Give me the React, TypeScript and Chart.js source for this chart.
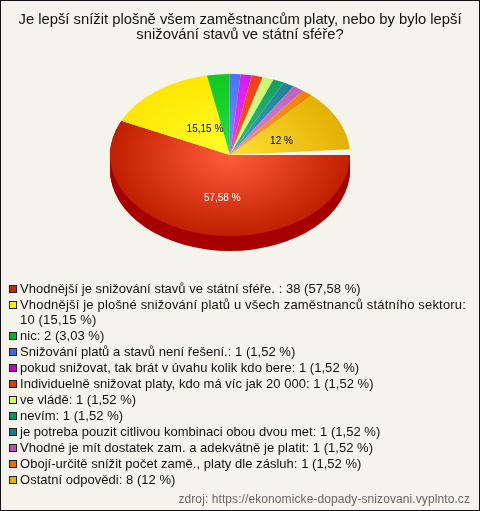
import React, { useEffect, useRef } from "react";
import { Chart, registerables } from "chart.js";

Chart.register(...registerables);

const titleLines = [
  "Je lepší snížit plošně všem zaměstnancům platy, nebo by bylo lepší",
  "snižování stavů ve státní sféře?",
];
const categories = [
  "Vhodnější je snižování stavů ve státní sféře. ",
  "Vhodnější je plošné snižování platů u všech zaměstnanců státního sektoru",
  "nic",
  "Snižování platů a stavů není řešení.",
  "pokud snižovat, tak brát v úvahu kolik kdo bere",
  "Individuelně snižovat platy, kdo má víc jak 20 000",
  "ve vládě",
  "nevím",
  "je potreba pouzit citlivou kombinaci obou dvou met",
  "Vhodné je mít dostatek zam. a adekvátně je platit",
  "Obojí-určitě snížit počet zamě., platy dle zásluh",
  "Ostatní odpovědi",
];
const values = [38, 10, 2, 1, 1, 1, 1, 1, 1, 1, 1, 8];
const percents = ["57,58", "15,15", "3,03", "1,52", "1,52", "1,52", "1,52", "1,52", "1,52", "1,52", "1,52", "12"];
const swatchColors = ["#c02a0c", "#ffee00", "#00b81c", "#3a6cf0", "#c400c4", "#e03c00", "#ccff66", "#009a5c", "#1a7a9a", "#b84fb8", "#e87000", "#e8b400"];
const innerColors = ["#ff5c3c", "#ffff2a", "#28e040", "#6e94ff", "#f040ff", "#ff5a20", "#e0ff90", "#30c088", "#40a8b8", "#e088e0", "#ffa030", "#ffe23c"];
const outerColors = ["#c02000", "#ffe600", "#10c820", "#5070ff", "#d818f0", "#f04010", "#c8f870", "#10a060", "#208098", "#c060c0", "#f08000", "#e2b000"];
const sideColor = "#a80000";
const sliceLabels = ["57,58 %", "15,15 %", "", "", "", "", "", "", "", "", "", "12 %"];
const labelColors = ["#ffffff", "#000000", "", "", "", "", "", "", "", "", "", "#000000"];
const labelReach = [0.53, 0.42, 0, 0, 0, 0, 0, 0, 0, 0, 0, 0.42];
const sourceText = "zdroj: https://ekonomicke-dopady-snizovani.vyplnto.cz";

const FONT = '"Liberation Sans", Arial, sans-serif';
const SQUASH = 0.675;
const CENTER_X = 230;
const CENTER_Y = 155;
const DEPTH = 15;
const LABEL_NUDGE_X = 6;
const LABEL_NUDGE_Y = 1;

const pie3d = {
  id: "pie3d",
  beforeDatasetsDraw(chart: any) {
    const ctx = chart.ctx;
    const arcs = chart.getDatasetMeta(0).data;
    const { x, y } = arcs[0];
    ctx.save();
    ctx.translate(CENTER_X, CENTER_Y);
    ctx.scale(1, SQUASH);
    ctx.translate(-x, -y);
    arcs.forEach((arc: any) => {
      const mid = (arc.startAngle + arc.endAngle) / 2;
      if (Math.sin(mid) <= 0) return;
      ctx.fillStyle = sideColor;
      for (let d = DEPTH; d >= 1; d--) {
        ctx.beginPath();
        ctx.moveTo(x, y + d / SQUASH);
        ctx.arc(x, y + d / SQUASH, arc.outerRadius, arc.startAngle, arc.endAngle);
        ctx.closePath();
        ctx.fill();
      }
    });
  },
  afterDatasetsDraw(chart: any) {
    const ctx = chart.ctx;
    ctx.restore();
    const arcs = chart.getDatasetMeta(0).data;
    ctx.save();
    ctx.font = `10px ${FONT}`;
    ctx.textAlign = "center";
    ctx.textBaseline = "middle";
    arcs.forEach((arc: any, i: number) => {
      if (!sliceLabels[i]) return;
      const mid = (arc.startAngle + arc.endAngle) / 2;
      const r = arc.outerRadius * labelReach[i];
      ctx.fillStyle = labelColors[i];
      ctx.fillText(sliceLabels[i], CENTER_X + LABEL_NUDGE_X + Math.cos(mid) * r, CENTER_Y + LABEL_NUDGE_Y + Math.sin(mid) * r * SQUASH);
    });
    ctx.restore();
  },
};

function fillFor(context: any) {
  const chart = context.chart;
  const area = chart.chartArea;
  const i = context.dataIndex;
  if (!area) return outerColors[i];
  const cx = (area.left + area.right) / 2;
  const cy = (area.top + area.bottom) / 2;
  const g = chart.ctx.createRadialGradient(cx, cy, 0, cx, cy, 120);
  g.addColorStop(0, innerColors[i]);
  g.addColorStop(1, outerColors[i]);
  return g;
}

export default function App() {
  const ref = useRef<HTMLCanvasElement>(null);
  useEffect(() => {
    const chart = new Chart(ref.current as HTMLCanvasElement, {
      type: "pie",
      data: {
        labels: categories,
        datasets: [{ data: values, backgroundColor: fillFor, borderWidth: 0 }],
      },
      options: {
        responsive: false,
        animation: false,
        rotation: 90,
        circumference: 356,
        layout: { padding: { left: 0, right: 0, top: 0, bottom: 189 } },
        plugins: {
          legend: { display: false },
          tooltip: { enabled: false },
          title: {
            display: true,
            text: titleLines,
            color: "#111111",
            font: { family: FONT, size: 14.8, weight: "normal", lineHeight: 1.0135 },
            padding: { top: 12, bottom: 40 },
          },
        },
      },
      plugins: [pie3d],
    } as any);
    return () => chart.destroy();
  }, []);

  return (
    <div style={{ position: "absolute", left: 0, top: 0, width: 480, height: 511, background: "#f5f4ec", fontFamily: FONT, overflow: "hidden" }}>
      <canvas ref={ref} width={480} height={511} style={{ display: "block", position: "absolute", left: 0, top: 0 }} />
      <div style={{ position: "absolute", left: 0, top: 0, width: 478, height: 509, border: "1px solid #111" }} />
      <div style={{ position: "absolute", left: 8, top: 280, width: 462, fontSize: 13, lineHeight: "15px", color: "#111" }}>
        {categories.map((c, i) => (
          <div key={i} style={{ position: "relative", paddingLeft: 12, paddingTop: 0.5, paddingBottom: 0.5, color: "#111", letterSpacing: i === 1 ? 0.18 : 0.03 }}>
            <span style={{ position: "absolute", left: 1, top: 5, width: 6, height: 6, background: swatchColors[i], border: "1px solid #222" }} />
            {`${c}: ${values[i]} (${percents[i]} %)`}
          </div>
        ))}
      </div>
      <div style={{ position: "absolute", right: 10, top: 492, fontSize: 12, color: "#666", letterSpacing: 0.09 }}>{sourceText}</div>
    </div>
  );
}
